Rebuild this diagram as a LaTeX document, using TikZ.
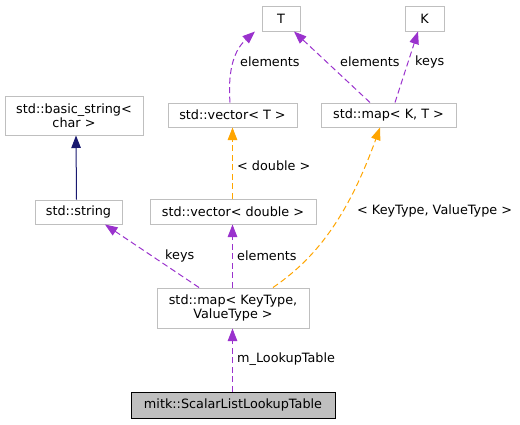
\documentclass[tikz,border=0pt]{standalone}
\usepackage{fontspec}
\setmainfont{DejaVu Sans}
\usetikzlibrary{arrows.meta}
\definecolor{edgepurple}{HTML}{9A32CD}
\definecolor{edgeorange}{HTML}{FFA500}
\definecolor{edgenavy}{HTML}{191970}
\definecolor{boxgray}{HTML}{BFBFBF}
\tikzset{
  txt/.style={font=\fontsize{12.8}{14.5}\selectfont},
  cls/.style={txt, draw=boxgray, line width=1pt, fill=white, inner sep=0pt, align=center},
  mainbox/.style={txt, draw=black, line width=1pt, fill=boxgray, inner sep=0pt, align=center},
  usage/.style={draw=edgepurple, line width=1pt, dash pattern=on 6pt off 3.5pt, -{Triangle[length=12.5pt,width=9.5pt,fill=edgepurple]}},
  tmpl/.style={draw=edgeorange, line width=1pt, dash pattern=on 6pt off 3.5pt, -{Triangle[length=12.5pt,width=9.5pt,fill=edgeorange]}},
  inherit/.style={draw=edgenavy, line width=1pt, -{Triangle[length=12.5pt,width=9.5pt,fill=edgenavy]}},
  elabel/.style={txt, anchor=west, inner sep=0pt, text=black}
}
\begin{document}
\begin{tikzpicture}[x=1pt,y=-1pt]
\useasboundingbox (0,0) rectangle (520,424);
\node[cls, minimum width=38pt, minimum height=25pt] (T) at (281,18.5) {T};
\node[cls, minimum width=39pt, minimum height=25pt] (K) at (424.5,18.5) {K};
\node[cls, minimum width=138pt, minimum height=39pt] (bstr) at (74,115.5) {std::basic\_string<\\char >};
\node[cls, minimum width=129pt, minimum height=24pt] (vecT) at (232.5,115) {std::vector< T >};
\node[cls, minimum width=135pt, minimum height=24pt] (mapKT) at (388.5,115) {std::map< K, T >};
\node[cls, minimum width=87pt, minimum height=24pt] (str) at (78.5,212) {std::string};
\node[cls, minimum width=166pt, minimum height=25pt] (vecD) at (233,211.5) {std::vector< double >};
\node[cls, minimum width=152pt, minimum height=40pt] (mapKV) at (233,308) {std::map< KeyType,\\ValueType >};
\node[mainbox, minimum width=204pt, minimum height=26pt] (mitk) at (233,405) {mitk::ScalarListLookupTable};

% inheritance
\draw[inherit] (str.north -| 76.5,0) -- (bstr.south -| 76,0);
% vector<T> -> T
\draw[usage] (vecT.north -| 230,0) .. controls (228,75) and (232,52) .. (T.south -| 255,0);
\node[elabel] (l1) at (240,62) {elements};
% map<K,T> -> T
\draw[usage] (mapKT.north -| 370,0) -- (T.south -| 294,0);
\node[elabel] (l2) at (340,62) {elements};
% map<K,T> -> K
\draw[usage] (mapKT.north -| 395,0) -- (K.south -| 418,0);
\node[elabel] (l3) at (415,62) {keys};
% vector<T> -> vector<double>
\draw[tmpl] (vecD.north -| 232.5,0) -- (vecT.south -| 232.5,0);
\node[elabel] (l4) at (237,166) {< double >};
% map<K,T> -> map<KeyType,ValueType>
\draw[tmpl] (mapKV.north -| 273,0) .. controls (310,262) and (345,225) .. (mapKT.south -| 380,0);
\node[elabel] (l5) at (357,211) {< KeyType, ValueType >};
% string -> map
\draw[usage] (mapKV.north -| 199,0) -- (str.south -| 105,0);
\node[elabel] (l6) at (165,256) {keys};
% vector<double> -> map
\draw[usage] (mapKV.north -| 232.5,0) -- (vecD.south -| 232.5,0);
\node[elabel] (l7) at (237,256) {elements};
% map -> mitk
\draw[usage] (mitk.north -| 232.5,0) -- (mapKV.south -| 232.5,0);
\node[elabel] (l8) at (237,359) {m\_LookupTable};
\end{tikzpicture}
\end{document}
